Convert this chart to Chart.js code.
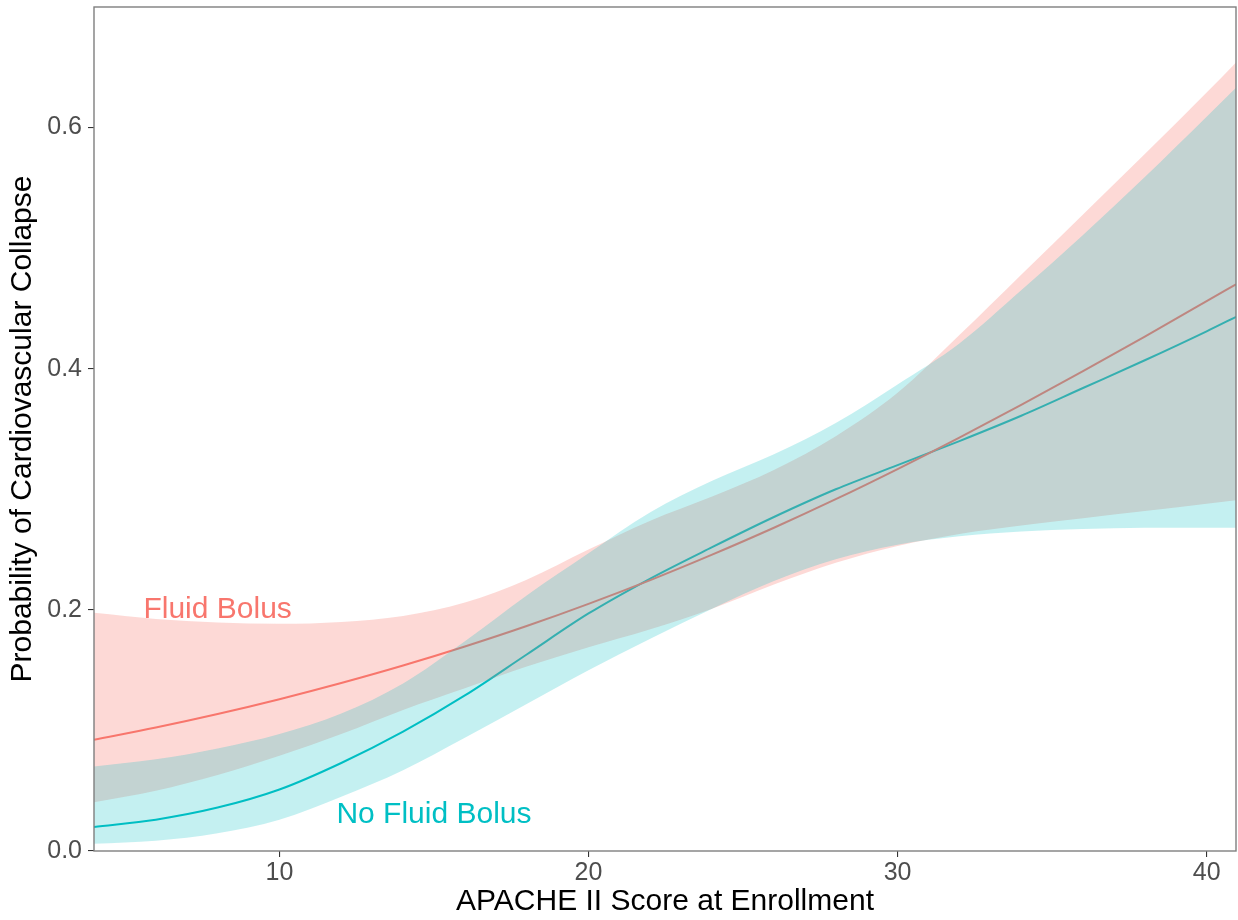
<!DOCTYPE html>
<html>
<head>
<meta charset="utf-8">
<title>Probability of Cardiovascular Collapse by APACHE II Score</title>
<script src="https://cdn.jsdelivr.net/npm/chart.js@4.4.1/dist/chart.umd.min.js"></script>
<style>
  html, body { margin: 0; padding: 0; background: #ffffff; }
  canvas { display: block; }
</style>
</head>
<body>
<canvas id="chart" width="1238" height="920"></canvas>
<script>
// APACHE II score grid at which the fitted curves are evaluated
const apacheScore = [4, 6, 8, 10, 12, 14, 16, 18, 20, 22, 24, 26, 28, 30, 32, 34, 36, 38, 40, 40.95];

// Fluid Bolus: fitted probability and 95% confidence band
const fluidBolusFit   = [0.0922, 0.1024, 0.1136, 0.1259, 0.1393, 0.1538, 0.1696, 0.1866, 0.2050, 0.2247,
                         0.2458, 0.2681, 0.2918, 0.3168, 0.3429, 0.3700, 0.3980, 0.4267, 0.4560, 0.4700];
const fluidBolusLower = [0.0405, 0.0500, 0.0630, 0.0790, 0.0970, 0.1170, 0.1350, 0.1530, 0.1690, 0.1840,
                         0.2010, 0.2210, 0.2390, 0.2530, 0.2630, 0.2700, 0.2760, 0.2820, 0.2880, 0.2910];
const fluidBolusUpper = [0.1975, 0.1925, 0.1895, 0.1885, 0.1900, 0.1950, 0.2060, 0.2250, 0.2500, 0.2740,
                         0.2940, 0.3160, 0.3440, 0.3800, 0.4280, 0.4780, 0.5280, 0.5780, 0.6290, 0.6540];

// No Fluid Bolus: fitted probability and 95% confidence band
const noFluidFit   = [0.0200, 0.0260, 0.0360, 0.0510, 0.0730, 0.0990, 0.1290, 0.1630, 0.1970, 0.2260,
                      0.2520, 0.2770, 0.3000, 0.3200, 0.3400, 0.3610, 0.3840, 0.4070, 0.4310, 0.4430];
const noFluidLower = [0.0060, 0.0086, 0.0148, 0.0260, 0.0450, 0.0670, 0.0940, 0.1220, 0.1500, 0.1760,
                      0.2010, 0.2240, 0.2420, 0.2540, 0.2610, 0.2650, 0.2670, 0.2680, 0.2680, 0.2680];
const noFluidUpper = [0.0700, 0.0760, 0.0850, 0.0970, 0.1140, 0.1390, 0.1740, 0.2120, 0.2470, 0.2810,
                      0.3070, 0.3290, 0.3550, 0.3870, 0.4210, 0.4650, 0.5110, 0.5590, 0.6090, 0.6330];

// Axis ranges and ticks
const xRange = [4, 40.95];
const yRange = [0, 0.7];
const xTicks = [10, 20, 30, 40];
const yTicks = [0, 0.2, 0.4, 0.6];

// Direct group labels placed in data coordinates
const groupLabels = [
  { text: 'Fluid Bolus',    x: 8,  y: 0.2,  color: '#F8766D' },
  { text: 'No Fluid Bolus', x: 15, y: 0.03, color: '#00BFC4' }
];

const FONT = "'Liberation Sans', Arial, Helvetica, sans-serif";
const toPoints = ys => apacheScore.map((x, i) => ({ x: x, y: ys[i] }));

const bandEdge = (data, order) => ({
  data: toPoints(data), order: order, fill: false,
  borderColor: 'rgba(0,0,0,0)', borderWidth: 0, pointRadius: 0
});

const panelBorder = {
  id: 'panelBorder',
  afterDraw(chart) {
    const { ctx, chartArea: a } = chart;
    ctx.save();
    ctx.strokeStyle = '#7F7F7F';
    ctx.lineWidth = 1.4;
    ctx.strokeRect(a.left, a.top, a.right - a.left, a.bottom - a.top);
    ctx.restore();
  }
};

const directLabels = {
  id: 'directLabels',
  afterDatasetsDraw(chart) {
    const { ctx, scales } = chart;
    ctx.save();
    ctx.font = '30px ' + FONT;
    ctx.textAlign = 'center';
    ctx.textBaseline = 'middle';
    groupLabels.forEach(l => {
      ctx.fillStyle = l.color;
      ctx.fillText(l.text, scales.x.getPixelForValue(l.x), scales.y.getPixelForValue(l.y));
    });
    ctx.restore();
  }
};

const zeroPadding = s => { s.paddingLeft = 0; s.paddingRight = 0; s.paddingTop = 0; s.paddingBottom = 0; };

new Chart(document.getElementById('chart'), {
  type: 'line',
  data: {
    datasets: [
      { label: 'Fluid Bolus', data: toPoints(fluidBolusFit), order: 3, fill: false,
        borderColor: '#F8766D', borderWidth: 2, pointRadius: 0 },
      { label: 'No Fluid Bolus', data: toPoints(noFluidFit), order: 3, fill: false,
        borderColor: '#00BFC4', borderWidth: 2, pointRadius: 0 },
      bandEdge(fluidBolusLower, 2),
      Object.assign(bandEdge(fluidBolusUpper, 2), { fill: '-1', backgroundColor: 'rgba(248,118,109,0.28)' }),
      bandEdge(noFluidLower, 1),
      Object.assign(bandEdge(noFluidUpper, 1), { fill: '-1', backgroundColor: 'rgba(0,191,196,0.23)' })
    ]
  },
  options: {
    responsive: false,
    animation: false,
    devicePixelRatio: 1,
    layout: { padding: { left: 0, right: 2, top: 7, bottom: 0 } },
    elements: { line: { cubicInterpolationMode: 'monotone' }, point: { radius: 0 } },
    plugins: {
      legend: { display: false },
      tooltip: { enabled: false },
      filler: { propagate: false }
    },
    scales: {
      x: {
        type: 'linear',
        min: xRange[0], max: xRange[1],
        afterBuildTicks: s => { s.ticks = xTicks.map(v => ({ value: v })); },
        afterFit: s => { s.height = 69; zeroPadding(s); },
        border: { display: false },
        grid: { drawOnChartArea: false, drawTicks: true, tickLength: 6, color: '#333333', lineWidth: 1.1 },
        ticks: { autoSkip: false, maxRotation: 0, padding: 1, color: '#4D4D4D',
                 font: { family: FONT, size: 25 } },
        title: { display: true, text: 'APACHE II Score at Enrollment', color: '#000000',
                 font: { family: FONT, size: 30 }, padding: { top: 0, bottom: 0 } }
      },
      y: {
        type: 'linear',
        min: yRange[0], max: yRange[1],
        afterBuildTicks: s => { s.ticks = yTicks.map(v => ({ value: v })); },
        afterFit: s => { s.width = 94; zeroPadding(s); },
        border: { display: false },
        grid: { drawOnChartArea: false, drawTicks: true, tickLength: 6, color: '#333333', lineWidth: 1.1 },
        ticks: { autoSkip: false, padding: 6, color: '#4D4D4D',
                 font: { family: FONT, size: 25 },
                 callback: v => Number(v).toFixed(1) },
        title: { display: true, text: 'Probability of Cardiovascular Collapse', color: '#000000',
                 font: { family: FONT, size: 30 }, padding: { top: 5, bottom: 0 } }
      }
    }
  },
  plugins: [directLabels, panelBorder]
});
</script>
</body>
</html>
